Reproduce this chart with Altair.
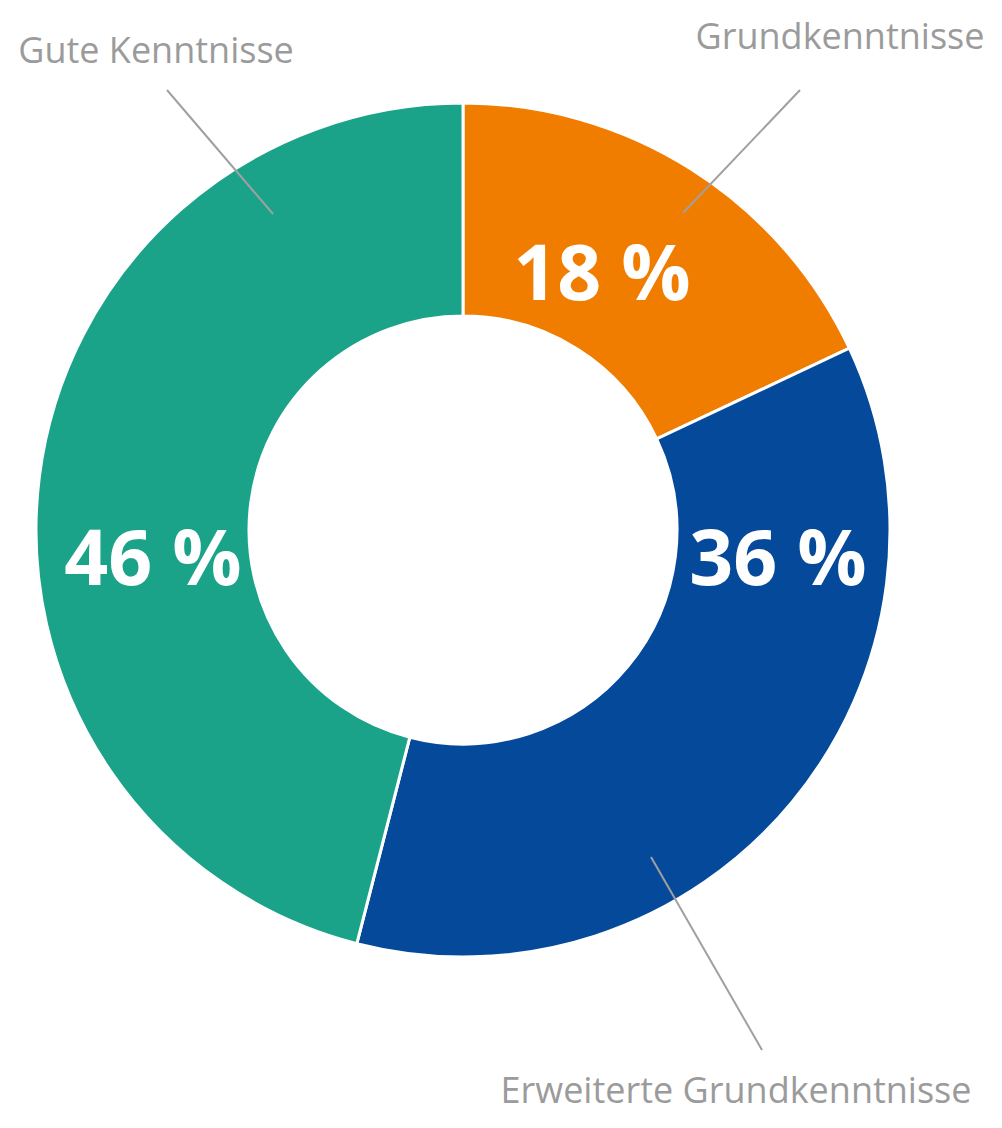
import altair as alt
import pandas as pd

# ---- data ----
categories = ["Grundkenntnisse", "Erweiterte Grundkenntnisse", "Gute Kenntnisse"]
shares = [18, 36, 46]
colors = ["#F07D00", "#054A9A", "#1BA38A"]

# ---- layout (pixel offsets from donut centre, y up) ----
W, H = 986, 1112
CX, CY = 455, 522           # donut centre inside the plot area
R_OUT, R_IN = 427, 214
pct_pos = [(139, 230), (315, -55), (-310, -55)]           # baseline positions of % labels
cat_pos = [(377, 481), (273, -573), (-307, 467)]           # baseline positions of category labels
leader = [((337, 440), (220, 317)),
          ((188, -327), (299, -520)),
          ((-296, 440), (-190, 316))]

order = list(range(len(categories)))
df = pd.DataFrame({"cat": categories, "share": shares, "order": order})
df["pct"] = [f"{v} %" for v in shares]
df["px"] = [p[0] for p in pct_pos]
df["py"] = [p[1] for p in pct_pos]
df["lx"] = [p[0] for p in cat_pos]
df["ly"] = [p[1] for p in cat_pos]
df["x1"] = [l[0][0] for l in leader]
df["y1"] = [l[0][1] for l in leader]
df["x2"] = [l[1][0] for l in leader]
df["y2"] = [l[1][1] for l in leader]

xs = alt.Scale(domain=[-CX, W - CX], nice=False, zero=False)
ys = alt.Scale(domain=[CY - H, CY], nice=False, zero=False)

base = alt.Chart(df)

arc = base.mark_arc(innerRadius=R_IN, outerRadius=R_OUT, stroke="white", strokeWidth=3).encode(
    theta=alt.Theta("share:Q", stack=True),
    order=alt.Order("order:Q"),
    color=alt.Color("cat:N", scale=alt.Scale(domain=categories, range=colors), legend=None),
    x=alt.value(CX),
    y=alt.value(CY),
)

pct = base.mark_text(font="Open Sans", fontWeight="bold", fontSize=77, color="white",
                     align="center", baseline="alphabetic").encode(
    x=alt.X("px:Q", scale=xs, axis=None),
    y=alt.Y("py:Q", scale=ys, axis=None),
    text="pct:N",
)

lines = base.mark_rule(color="#A0A0A0", strokeWidth=2).encode(
    x=alt.X("x1:Q", scale=xs, axis=None),
    y=alt.Y("y1:Q", scale=ys, axis=None),
    x2="x2:Q",
    y2="y2:Q",
)

labels = base.mark_text(font="Open Sans", fontSize=36, color="#9B9B9B",
                        align="center", baseline="alphabetic").encode(
    x=alt.X("lx:Q", scale=xs, axis=None),
    y=alt.Y("ly:Q", scale=ys, axis=None),
    text="cat:N",
)

chart = alt.layer(arc, lines, pct, labels).properties(
    width=W, height=H, padding=0,
    autosize=alt.AutoSizeParams(type="none"),
).configure_view(stroke=None)

chart.save("out.html", embed_options={"renderer": "svg", "actions": False})
